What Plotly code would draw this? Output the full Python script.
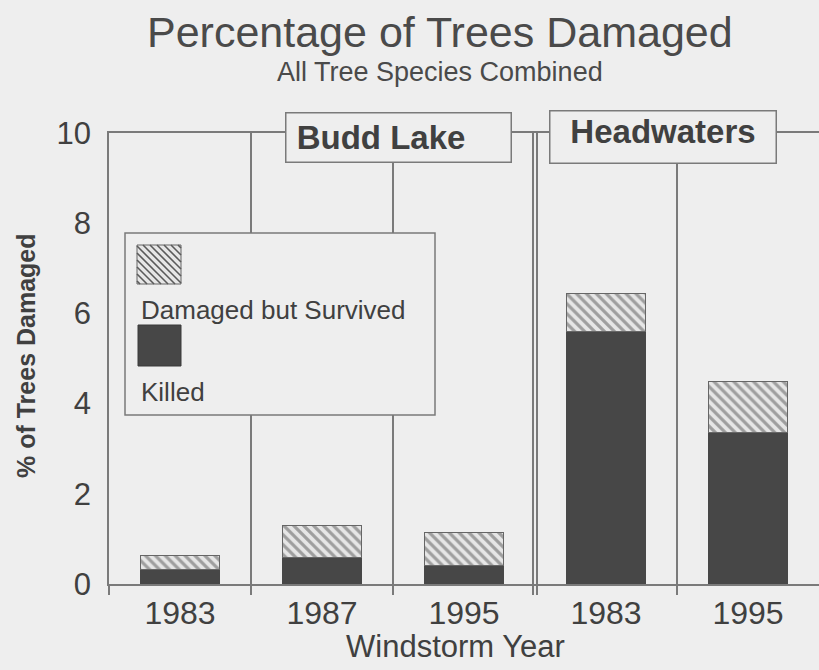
import plotly.graph_objects as go

# ---- data ----
years = ["1983", "1987", "1995", "1983", "1995"]
sites = ["Budd Lake", "Budd Lake", "Budd Lake", "Headwaters", "Headwaters"]
killed = [0.33, 0.58, 0.40, 5.59, 3.35]
damaged_survived = [0.31, 0.71, 0.75, 0.86, 1.13]
y_ticks = [0, 2, 4, 6, 8, 10]

x_pos = list(range(len(years)))

BG = "#eeeeee"
DARK = "#474747"
LINE = "#7a7a7a"
TXT = "#404040"
FONT = "Liberation Sans, Arial, sans-serif"

W, H = 819, 670
L, T, R, B = 109, 133, 0, 86
PW, PH = W - L - R, H - T - B


def px(x):
    return (x - L) / PW


def py(y):
    return (H - B - y) / PH


fig = go.Figure()
fig.add_trace(go.Bar(
    x=x_pos, y=killed, name="Killed", width=0.56,
    marker=dict(color=DARK, line=dict(width=0)), showlegend=False,
))
fig.add_trace(go.Bar(
    x=x_pos, y=damaged_survived, name="Damaged but Survived", width=0.56,
    marker=dict(color="#e6e6e6", line=dict(color="#666666", width=1),
                pattern=dict(shape="\\", fgcolor="#555555", bgcolor="#e6e6e6",
                             size=7, solidity=0.45)),
    showlegend=False,
))

# group boundaries (between categories), double line between sites
bounds = [-0.5]
for i in range(1, len(sites)):
    b = i - 0.5
    if sites[i] != sites[i - 1]:
        bounds += [b - 0.014, b + 0.014]
    else:
        bounds.append(b)

fig.update_layout(
    width=W, height=H,
    margin=dict(l=L, r=R, t=T, b=B),
    paper_bgcolor=BG, plot_bgcolor=BG,
    barmode="stack", bargap=0.44,
    font=dict(family=FONT, color=TXT),
    showlegend=False,
    xaxis=dict(
        range=[-0.5, 4.5], tickmode="array", tickvals=x_pos, ticktext=years,
        ticks="", showgrid=False, zeroline=False,
        showline=True, mirror=True, linecolor=LINE, linewidth=1.5,
        tickfont=dict(size=32, color=TXT), ticklabelstandoff=0,
        minor=dict(tickmode="array", tickvals=bounds, ticks="outside", ticklen=9,
                   tickcolor=LINE, tickwidth=1.5, showgrid=True,
                   gridcolor=LINE, gridwidth=1.5),
    ),
    yaxis=dict(
        range=[0, 10], tickmode="array", tickvals=y_ticks,
        ticks="", showgrid=False, zeroline=False,
        showline=True, linecolor=LINE, linewidth=1.5,
        tickfont=dict(size=31, color=TXT), ticklabelstandoff=10,
    ),
)

shapes = []
# legend box
shapes.append(dict(type="rect", xref="paper", yref="paper",
                   x0=px(125), x1=px(435), y0=py(415), y1=py(233),
                   fillcolor=BG, line=dict(color=LINE, width=1.5), layer="above"))
# hatched swatch
hx0, hx1, hy0, hy1 = 137, 181, 245, 284
shapes.append(dict(type="rect", xref="paper", yref="paper",
                   x0=px(hx0), x1=px(hx1), y0=py(hy1), y1=py(hy0),
                   fillcolor="#e6e6e6", line=dict(color="#666666", width=1), layer="above"))
step = 7
c = hx0 - (hy1 - hy0) + 3
while c < hx1:
    xa, ya = c, 0
    if xa < hx0:
        ya = hx0 - c
        xa = hx0
    xb, yb = c + (hy1 - hy0), hy1 - hy0
    if xb > hx1:
        yb = hx1 - c
        xb = hx1
    if ya < yb:
        shapes.append(dict(type="line", xref="paper", yref="paper",
                           x0=px(xa), y0=py(hy0 + ya), x1=px(xb), y1=py(hy0 + yb),
                           line=dict(color="#5a5a5a", width=1.6), layer="above"))
    c += step
# dark swatch
shapes.append(dict(type="rect", xref="paper", yref="paper",
                   x0=px(138), x1=px(181), y0=py(366), y1=py(325),
                   fillcolor=DARK, line=dict(color="#3a3a3a", width=1), layer="above"))
fig.update_layout(shapes=shapes)

ann = []
ann.append(dict(text="Percentage of Trees Damaged", xref="paper", yref="paper",
                x=px(440), y=py(32), showarrow=False, xanchor="center", yanchor="middle",
                font=dict(size=43, color="#4a4a4a")))
ann.append(dict(text="All Tree Species Combined", xref="paper", yref="paper",
                x=px(440), y=py(72), showarrow=False, xanchor="center", yanchor="middle",
                font=dict(size=27, color="#4a4a4a")))
ann.append(dict(text="Windstorm Year", xref="paper", yref="paper",
                x=px(455), y=py(646), showarrow=False, xanchor="center", yanchor="middle",
                font=dict(size=31, color=TXT)))
ann.append(dict(text="<b>% of Trees Damaged</b>", xref="paper", yref="paper",
                x=px(26), y=py(356), showarrow=False, textangle=-90,
                xanchor="center", yanchor="middle", font=dict(size=25, color=TXT)))
ann.append(dict(text="&nbsp;<b>Budd Lake</b>", xref="paper", yref="paper",
                x=px(398), y=py(137), showarrow=False, xanchor="center", yanchor="middle",
                width=222, height=46, borderpad=1, bgcolor=BG, bordercolor=LINE,
                borderwidth=1.5, align="left", font=dict(size=33, color=TXT)))
ann.append(dict(text="<b>Headwaters</b>", xref="paper", yref="paper",
                x=px(662.5), y=py(136.5), showarrow=False, xanchor="center", yanchor="middle",
                width=223, height=49, borderpad=1, bgcolor=BG, bordercolor=LINE,
                borderwidth=1.5, valign="top", font=dict(size=33, color=TXT)))
ann.append(dict(text="Damaged but Survived", xref="paper", yref="paper",
                x=px(139), y=py(310), showarrow=False, xanchor="left", yanchor="middle",
                font=dict(size=26, color=TXT)))
ann.append(dict(text="Killed", xref="paper", yref="paper",
                x=px(139), y=py(392), showarrow=False, xanchor="left", yanchor="middle",
                font=dict(size=26, color=TXT)))
fig.update_layout(annotations=ann)

fig.write_html("out.html", config={"displayModeBar": False},
               post_script="document.body.style.margin='0px';")
